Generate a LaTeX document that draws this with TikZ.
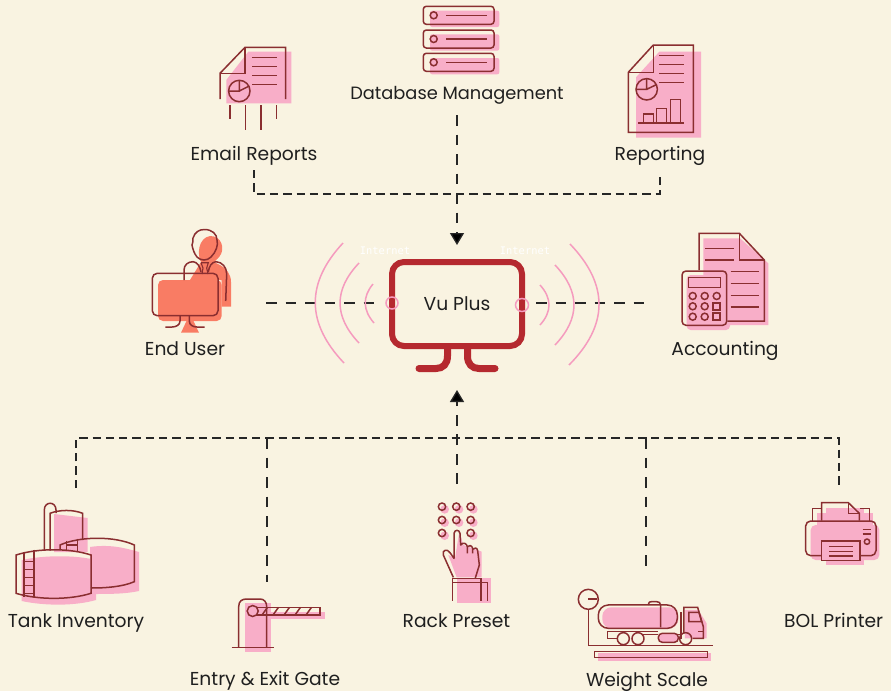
\documentclass[tikz,border=0pt]{standalone}
\usepackage{fontspec}
\setmainfont{Poppins}
\newfontfamily\monofont{DejaVu Sans Mono}
\usetikzlibrary{arrows.meta}
\definecolor{paper}{RGB}{249,243,225}
\definecolor{iconline}{RGB}{138,46,48}
\definecolor{iconpink}{RGB}{248,174,200}
\definecolor{iconsalmon}{RGB}{249,124,100}
\definecolor{vured}{RGB}{181,41,47}
\definecolor{wavepink}{RGB}{245,155,190}
\begin{document}
\begin{tikzpicture}[x=1pt, y=-1pt,
    label/.style = {font=\fontsize{18.7}{21}\selectfont, text=black!88, inner sep=0pt, anchor=base},
    conn/.style = {draw=black!85, line width=1.3pt, dash pattern=on 8.3pt off 5pt},
    sideconn/.style = {draw=black!85, line width=1.3pt, dash pattern=on 10.7pt off 8.8pt},
    tip/.style = {-{Triangle[length=12pt, width=14pt, fill=black]}},
    icon/.style = {draw=iconline, line width=1.5pt},
    thin icon/.style = {draw=iconline, line width=1.1pt},
    shadow/.style = {fill=iconpink, draw=none},
    wave/.style = {draw=wavepink, line width=1.5pt},
    nettext/.style = {font=\monofont\fontsize{10.4}{12}\selectfont, text=white, inner sep=0pt},
    zoomed/.style = {x=0.3333pt, y=-0.3333pt}]
  \useasboundingbox (0,0) rectangle (891,691);
  \fill[paper] (0,0) rectangle (891,691);

  % labels
  \node[label] (email) at (254,160) {Email Reports};
  \node[label, font=\fontsize{17.8}{20}\selectfont] (database) at (457,99) {Database Management};
  \node[label] (reporting) at (660,160) {Reporting};
  \node[label] (enduser) at (185,355) {End User};
  \node[label] (accounting) at (725,355) {Accounting};
  \node[label] (tank) at (76,627) {Tank Inventory};
  \node[label] (gate) at (265,685) {Entry \& Exit Gate};
  \node[label] (rack) at (456.5,627) {Rack Preset};
  \node[label] (scale) at (647,686) {Weight Scale};
  \node[label, anchor=base west] (printer) at (784,627) {BOL Printer};

  % center
  \node[draw=vured, line width=6pt, rounded corners=12pt, minimum width=130pt, minimum height=84pt,
    inner sep=0pt, font=\fontsize{18.7}{21}\selectfont, text=black!88] (vu) at (457,304) {Vu Plus};
  \draw[vured, line width=7pt, line cap=round] (447.5,349) -- (447.5,356) .. controls (447.5,364) and (443,368.5) .. (436,368.5) -- (419,368.5);
  \draw[vured, line width=7pt, line cap=round] (467.5,349) -- (467.5,356) .. controls (467.5,364) and (472,368.5) .. (479,368.5) -- (495,368.5);

  % connectors
  \coordinate (emailout) at (254,170);
  \coordinate (reportout) at (660,172);
  \coordinate (topjoin) at (457,194);
  \coordinate (userout) at (266,303);
  \coordinate (userin) at (378,303);
  \coordinate (acctout) at (646,303);
  \coordinate (acctin) at (536,303);
  \coordinate (tankout) at (76,488);
  \coordinate (printerout) at (839,488);
  \coordinate (gateout) at (267,582);
  \coordinate (gatejoin) at (267,438);
  \coordinate (scaleout) at (646,572);
  \coordinate (scalejoin) at (646,438);
  \coordinate (rackout) at (457,484);
  \draw[conn] (emailout) |- (topjoin) -| (reportout);
  \draw[sideconn, tip, shorten <=11pt, shorten >=14pt] (database.south) -- (vu.north);
  \draw[sideconn] (userout) -- (userin);
  \draw[sideconn] (acctin) -- (acctout);
  \draw[conn] (tankout) |- (gatejoin) -- (scalejoin) -| (printerout);
  \draw[sideconn] (gatejoin) -- (gateout);
  \draw[sideconn] (scalejoin) -- (scaleout);
  \draw[sideconn, tip, shorten >=41pt] (rackout) -- (vu.south);

  % waves
  \draw[wave] (343,243) .. controls (305.7,283) and (306,323) .. (344,363);
  \draw[wave] (359,263) .. controls (333.7,289.7) and (333.7,316.3) .. (359,343);
  \draw[wave] (373,284) .. controls (362.3,297) and (362.7,310) .. (374,323);
  \draw[wave] (570,244) .. controls (609,284.7) and (608.7,325) .. (569,365);
  \draw[wave] (555,265) .. controls (580.3,291.7) and (580.3,318.3) .. (555,345);
  \draw[wave] (540,285) .. controls (552,298.3) and (552,311.7) .. (540,325);
  \draw[wave] (392,303) circle (6);
  \draw[wave] (522,305) circle (6.5);
  \node[nettext] (netleft) at (385,251) {Internet};
  \node[nettext] (netright) at (525,251) {Internet};

  % email reports
  \fill[shadow] (226.3,80) -- (248.3,51.7) -- (291.3,51.7) -- (291.3,103.3) -- (226.3,103.3) -- cycle;
  \draw[icon] (220,99) -- (220,73.3) -- (245,47.3) -- (285.7,47.3) -- (285.7,99);
  \draw[icon] (220,73.3) -- (245,73.3) -- (245,47.3);
  \foreach \y in {57.3,66.3,75.3,84.3}
    \draw[icon] (252.3,\y) -- (276.7,\y);
  \draw[icon] (239.3,91) circle (10.7);
  \draw[icon] (229,91) -- (239.3,91) -- (239.3,80.5) (239.3,91) -- (249.3,86);
  \draw[icon] (230,105) -- (230,119) (245.7,105) -- (245.7,130) (261,105) -- (261,130) (276.3,105) -- (276.3,118.7);

  % database
  \foreach \y in {10.7,34.3,58}
    \fill[shadow, rounded corners=2pt] (430,\y) rectangle (499.3,\y+16.3);
  \foreach \y in {6.3,30,53.3} {
    \draw[icon, rounded corners=3pt] (423.3,\y) rectangle (494,\y+18);
    \draw[icon] (433.7,\y+9) circle (3.5);
    \draw[icon] (446,\y+9) -- (487.3,\y+9);
  }

  % reporting
  \fill[shadow] (636,77.3) -- (659.3,51.7) -- (701,51.7) -- (701,137.7) -- (636,137.7) -- cycle;
  \draw[icon] (628.3,72.3) -- (653.3,45) -- (693.3,45) -- (693.3,132.3) -- (628.3,132.3) -- cycle;
  \draw[icon] (628.3,72.3) -- (653.3,72.3) -- (653.3,45);
  \foreach \y in {55.7,64.7,73.7,82.7}
    \draw[icon] (659.3,\y) -- (684.3,\y);
  \draw[icon] (646.7,89.3) circle (10.7);
  \draw[icon] (636.5,89.3) -- (646.7,89.3) -- (646.7,79) (646.7,89.3) -- (656.7,84.5);
  \draw[icon] (638.3,123) -- (683.7,123);
  \draw[icon] (643.3,123) -- (643.3,114) -- (653.3,114) -- (653.3,123);
  \draw[icon] (656.7,123) -- (656.7,108.3) -- (666.7,108.3) -- (666.7,123);
  \draw[icon] (670.7,123) -- (670.7,99.7) -- (680.7,99.7) -- (680.7,123);

  % end user
  \fill[iconsalmon] (210,236) .. controls (222,236) and (224,248) .. (221,254) .. controls (219,258) and (216,260) .. (214,262)
    -- (220,265) .. controls (226,268) and (231,274) .. (231,282) -- (231,306.7) -- (221.7,306.7) -- (221.7,280) -- (190,280) -- (201,262)
    .. controls (197,255) and (198,238) .. (210,236) -- cycle;
  \fill[iconsalmon, rounded corners=5pt] (158,280) rectangle (221.7,321);
  \fill[iconsalmon] (187,320) -- (193,320) -- (199,332.7) -- (181,332.7) -- cycle;
  \draw[icon] (204.5,229.5) .. controls (212,229.5) and (217,234) .. (217,240) .. controls (218.5,245) and (216,252) .. (211,257)
    .. controls (207,261) and (201,261) .. (197,257) .. controls (194,253) and (193,250) .. (192,245)
    .. controls (193,243) and (193,241) .. (193,238) .. controls (195,232) and (199,229.5) .. (204.5,229.5) -- cycle;
  \draw[icon] (184,280) -- (184,270) .. controls (184,265) and (188,261.7) .. (193,261.7) .. controls (197,262) and (200,266) .. (201,272);
  \draw[icon] (208.3,272) .. controls (209,266) and (212,262) .. (216,261.7) .. controls (222,262) and (226.7,267) .. (226.7,274) -- (225.7,301);
  \draw[thin icon] (201,262.7) -- (208.3,262.7) -- (206.7,268) -- (208,274) (202,274) -- (203,268) -- (201,262.7);
  \draw[icon, rounded corners=5pt] (152.3,273.3) rectangle (218,315.7);
  \draw[icon] (180,315.7) -- (180,321) .. controls (180,325) and (176,327) .. (172,327) -- (165.3,327);
  \draw[icon] (189.3,315.7) -- (189.3,321) .. controls (189.3,325) and (193,327) .. (197,327) -- (204.7,327);

  % accounting
  \fill[shadow] (703.3,238.3) -- (740,238.3) -- (768.3,263.3) -- (768.3,325) -- (703.3,325) -- cycle;
  \fill[shadow, rounded corners=4pt] (686.7,275) rectangle (730,330);
  \draw[icon] (699,270) -- (699,233.3) -- (739.3,233.3) -- (764.3,260) -- (764.3,321) -- (727.3,321);
  \draw[icon] (739.3,233.3) -- (739.3,260) -- (764.3,260);
  \foreach \y in {248.3,260}
    \draw[icon] (705,\y) -- (734.3,\y);
  \foreach \y in {271.7,283.3,295.3,307}
    \draw[icon] (730.7,\y) -- (759.3,\y);
  \draw[icon, rounded corners=4pt] (682,271) rectangle (726.7,325.3);
  \draw[icon] (688.7,277.3) rectangle (720.7,287.7);
  \foreach \x in {692.7,704.7}
    \foreach \y in {296,306.3,316.7}
      \draw[icon] (\x,\y) circle (3.5);
  \draw[icon] (716.7,296) circle (3.5);
  \foreach \y in {306.3,316.7}
    \draw[icon] (713.2,\y-3.5) rectangle (720.2,\y+3.5);

  % tank inventory
  \fill[shadow] (54,514) -- (87.7,518) -- (87.7,552) -- (54,552) -- cycle;
  \fill[shadow] (90,547) .. controls (110,544) and (125,548) .. (139,552) -- (139,591) .. controls (125,594) and (110,594) .. (90,594) -- cycle;
  \fill[shadow] (21.7,560) .. controls (45,555) and (75,555) .. (96,560) -- (96,600) .. controls (75,606) and (45,606) .. (21.7,601) -- cycle;
  \draw[icon] (44.3,550.7) -- (44.3,510) .. controls (44.3,501) and (56,501) .. (56,510) -- (56,513);
  \draw[icon] (50,550.7) -- (50,513.3) .. controls (60,509.5) and (73,509.5) .. (82.7,513.3) -- (82.7,540);
  \draw[icon] (60,550) -- (60,545) .. controls (80,536) and (115,536) .. (134.3,545) -- (134.3,581.7) .. controls (122,587) and (105,588) .. (91,588);
  \draw[icon] (16,555) .. controls (38,548) and (70,548) .. (91,555) -- (91,593.3) .. controls (70,600) and (38,600) .. (16,593.3) -- cycle;
  \draw[icon] (24,551.7) -- (24,597.3) (34,549.5) -- (34,597.3);
  \foreach \y in {561.7,569.3,577.3,585.7,593.3}
    \draw[thin icon] (24,\y) -- (34,\y);
  \draw[icon] (66.7,540.5) -- (66.7,550.7) (77.3,538.5) -- (77.3,550.7) (66.7,545) -- (77.3,545);

  % gate
  \fill[shadow] (245,603.3) rectangle (270.7,651.7);
  \fill[shadow] (256.7,611.7) rectangle (325,619.3);
  \draw[icon] (238.7,647.3) -- (238.7,606.7) .. controls (238.7,601) and (242,599) .. (246.7,599) -- (260,599) .. controls (264,599) and (266.7,602) .. (266.7,606.7) -- (266.7,647.3);
  \draw[icon] (231.7,647.7) -- (274,647.7);
  \draw[icon] (256.7,607.3) rectangle (320,615);
  \foreach \x in {262,273,284,295,306}
    \draw[icon] (\x,615) -- (\x+5.5,607.3);
  \draw[icon, fill=iconpink] (252.7,611) circle (5.5);

  % rack preset
  \begin{scope}[shift={(400,490)}, zoomed]
    \foreach \x/\y in {126/50,169/50,212/50,126/90,169/90,212/90,126/129,212/129} {
      \fill[shadow] (\x+8,\y+8) circle (13);
      \draw[icon] (\x,\y) circle (11);
    }
    \fill[shadow] (145,195) -- (165,205) -- (178,125) -- (190,165) -- (245,185) -- (245,262) -- (170,262) -- cycle;
    \fill[shadow] (170,265) rectangle (272,338);
    \draw[icon, line join=round] (160,262) -- (130,195) .. controls (125,180) and (142,175) .. (150,188) -- (162,205) -- (162,130)
      .. controls (164,118) and (178,118) .. (180,130) -- (182,165) .. controls (190,155) and (200,160) .. (202,170) -- (202,190)
      (202,170) .. controls (205,165) and (216,165) .. (218,175) -- (218,190) (218,178) .. controls (222,172) and (232,172) .. (233,182) -- (238,225) -- (226,264);
    \draw[icon] (158,332) -- (158,265) -- (243,265) -- (243,332);
    \draw[icon] (158,278) -- (262,278) -- (262,332);
  \end{scope}

  % weight scale
  \begin{scope}[shift={(400,490)}, zoomed]
    \fill[shadow] (595,490) rectangle (933,513);
    \fill[shadow, rounded corners=9pt] (607,352) rectangle (835,415);
    \fill[shadow] (855,360) -- (895,360) -- (920,400) -- (920,445) -- (855,445) -- cycle;
    \fill[shadow, rounded corners=4pt] (775,430) rectangle (835,457);
    \draw[icon] (565,358) -- (565,467) -- (940,467);
    \draw[icon] (565,328) circle (30);
    \draw[icon] (565,327) -- (590,327);
    \draw[icon] (584,484) rectangle (922,503);
    \draw[icon, rounded corners=10pt] (595,345) rectangle (832,415);
    \draw[icon] (745,345) .. controls (747,335) and (750,335) .. (755,335) -- (770,335) .. controls (778,335) and (780,338) .. (782,345) -- (782,412);
    \draw[icon] (650,445) -- (623,445) -- (623,425) -- (775,425) (730,433) -- (775,433) (835,445) -- (843,445) -- (843,365);
    \draw[icon] (840,433) -- (835,433);
    \foreach \x in {670,714,857}
      \draw[icon] (\x,446) circle (18);
    \draw[icon, rounded corners=4pt] (775,430) rectangle (835,457);
    \draw[icon] (852,430) -- (852,352) -- (893,352) -- (910,410) -- (910,445) -- (878,445);
    \draw[icon] (867,367) -- (897,367) -- (905,395) -- (867,395) -- cycle;
    \draw[icon] (895,425) -- (910,425);
  \end{scope}

  % printer
  \begin{scope}[shift={(770,490)}, zoomed]
    \fill[shadow] (140,70) rectangle (310,120);
    \fill[shadow] (168,55) rectangle (282,225);
    \fill[shadow, rounded corners=5pt] (122,105) rectangle (328,210);
    \draw[icon] (127,92) -- (127,56) -- (155,56) (270,56) -- (298,56) -- (298,92);
    \draw[icon] (155,92) -- (155,38) -- (235,38) -- (268,70) -- (268,92);
    \draw[icon] (235,38) -- (235,70) -- (268,70);
    \draw[icon, rounded corners=5pt] (107,93) rectangle (318,197);
    \draw[icon, fill=iconpink] (155,153) rectangle (270,212);
    \foreach \y in {170,184,198}
      \draw[icon] (178,\y) -- (248,\y);
    \foreach \y in {118,132}
      \draw[icon] (278,\y) -- (303,\y);
    \draw[icon] (291,155) circle (8);
  \end{scope}
\end{tikzpicture}
\end{document}
